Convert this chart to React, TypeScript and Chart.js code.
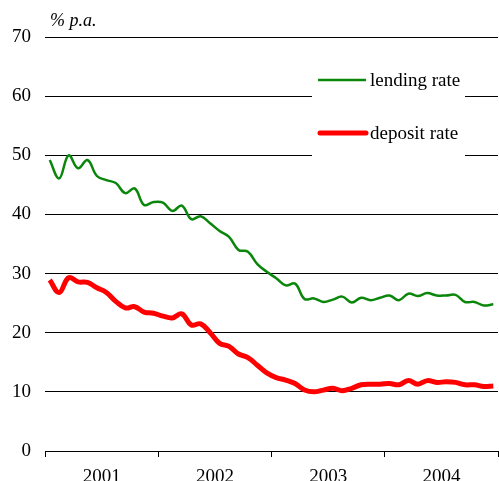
import { useEffect, useRef } from 'react';
import { Chart, registerables } from 'chart.js';

Chart.register(...registerables);

const years = ['2001', '2002', '2003', '2004'];
const seriesNames = ['lending rate', 'deposit rate'];
const unitLabel = '% p.a.';

// monthly values, Jan 2001 .. Dec 2004
const lending = [
  49.2, 46.1, 50.0, 47.8, 49.2, 46.5, 45.8, 45.3, 43.6, 44.4, 41.6, 42.1,
  42.0, 40.6, 41.5, 39.2, 39.7, 38.5, 37.2, 36.2, 34.0, 33.7, 31.6, 30.3,
  29.2, 28.0, 28.3, 25.7, 25.8, 25.2, 25.6, 26.1, 25.1, 25.9, 25.5, 25.9,
  26.3, 25.5, 26.6, 26.2, 26.7, 26.3, 26.3, 26.4, 25.2, 25.2, 24.6, 24.8,
];
const deposit = [
  28.9, 26.8, 29.3, 28.6, 28.5, 27.6, 26.8, 25.3, 24.2, 24.4, 23.5, 23.3,
  22.8, 22.5, 23.2, 21.3, 21.5, 20.0, 18.2, 17.7, 16.4, 15.8, 14.5, 13.2,
  12.4, 12.0, 11.4, 10.3, 10.0, 10.3, 10.6, 10.2, 10.6, 11.2, 11.3, 11.3,
  11.4, 11.2, 11.9, 11.3, 11.9, 11.6, 11.7, 11.6, 11.2, 11.2, 10.9, 11.0,
];
const yMin = 0;
const yMax = 70;
const yStep = 10;

const FONT = '"Liberation Serif", "Times New Roman", serif';

const legendPlugin = {
  id: 'boxLegend',
  beforeDatasetsDraw(chart: any) {
    const ctx = chart.ctx;
    ctx.save();
    ctx.fillStyle = '#ffffff';
    ctx.fillRect(312, 62, 153, 106);
    const rows = [80, 133];
    chart.data.datasets.forEach((ds: any, i: number) => {
      const y = rows[i];
      ctx.beginPath();
      ctx.strokeStyle = ds.borderColor;
      ctx.lineWidth = ds.borderWidth;
      ctx.lineCap = i === 1 ? 'round' : 'butt';
      ctx.moveTo(i === 1 ? 320 : 318, y);
      ctx.lineTo(366, y);
      ctx.stroke();
      ctx.fillStyle = '#000';
      ctx.font = `19px ${FONT}`;
      ctx.textBaseline = 'middle';
      ctx.textAlign = 'left';
      ctx.fillText(ds.label, 370, y + 1);
    });
    ctx.restore();
  },
};

const unitPlugin = {
  id: 'unitLabel',
  afterDraw(chart: any) {
    const ctx = chart.ctx;
    ctx.save();
    ctx.fillStyle = '#000';
    ctx.font = `italic 18px ${FONT}`;
    ctx.textAlign = 'left';
    ctx.textBaseline = 'alphabetic';
    ctx.fillText(unitLabel, 50, 26);
    ctx.restore();
  },
};

export default function App() {
  const ref = useRef<HTMLCanvasElement>(null);
  useEffect(() => {
    document.body.style.margin = '0';
    const chart = new Chart(ref.current!, {
      type: 'line',
      data: {
        datasets: [
          {
            label: seriesNames[0],
            data: lending.map((v, i) => ({ x: i + 0.5, y: v })),
            borderColor: '#0a860a',
            borderWidth: 2.5,
            pointRadius: 0,
            tension: 0.4,
            fill: false,
          },
          {
            label: seriesNames[1],
            data: deposit.map((v, i) => ({ x: i + 0.5, y: v })),
            borderColor: '#ff0000',
            borderWidth: 5,
            pointRadius: 0,
            tension: 0.4,
            fill: false,
          },
        ],
      },
      options: {
        animation: false,
        responsive: false,
        layout: { padding: { top: 37, right: 1, left: 0, bottom: 0 } },
        plugins: { legend: { display: false }, tooltip: { enabled: false } },
        scales: {
          x: {
            type: 'linear',
            min: 0,
            max: years.length * 12,
            afterBuildTicks: (s: any) => {
              const t = [];
              for (let v = 0; v <= years.length * 12; v += 6) t.push({ value: v });
              s.ticks = t;
            },
            ticks: {
              autoSkip: false,
              maxRotation: 0,
              color: '#000',
              padding: 9,
              font: { family: FONT, size: 19 },
              callback: (v: any) => (v % 12 === 6 ? years[(v - 6) / 12] : ''),
            },
            grid: {
              drawOnChartArea: false,
              drawTicks: true,
              tickLength: 6,
              lineWidth: 1,
              tickColor: (c: any) =>
                c.tick && c.tick.value % 12 === 0 ? '#000' : 'rgba(0,0,0,0)',
            },
            border: { display: true, color: '#000', width: 1 },
            afterFit: (s: any) => {
              s.height = 30;
              s.paddingLeft = 0;
              s.paddingRight = 0;
            },
          },
          y: {
            min: yMin,
            max: yMax,
            ticks: {
              stepSize: yStep,
              color: '#000',
              padding: 14,
              font: { family: FONT, size: 19 },
            },
            grid: { color: '#000', lineWidth: 1, drawTicks: false },
            border: { display: false },
            afterFit: (s: any) => {
              s.width = 45;
            },
          },
        },
      },
      plugins: [legendPlugin, unitPlugin],
    });
    return () => chart.destroy();
  }, []);
  return <canvas ref={ref} width={499} height={481} style={{ display: 'block' }} />;
}
